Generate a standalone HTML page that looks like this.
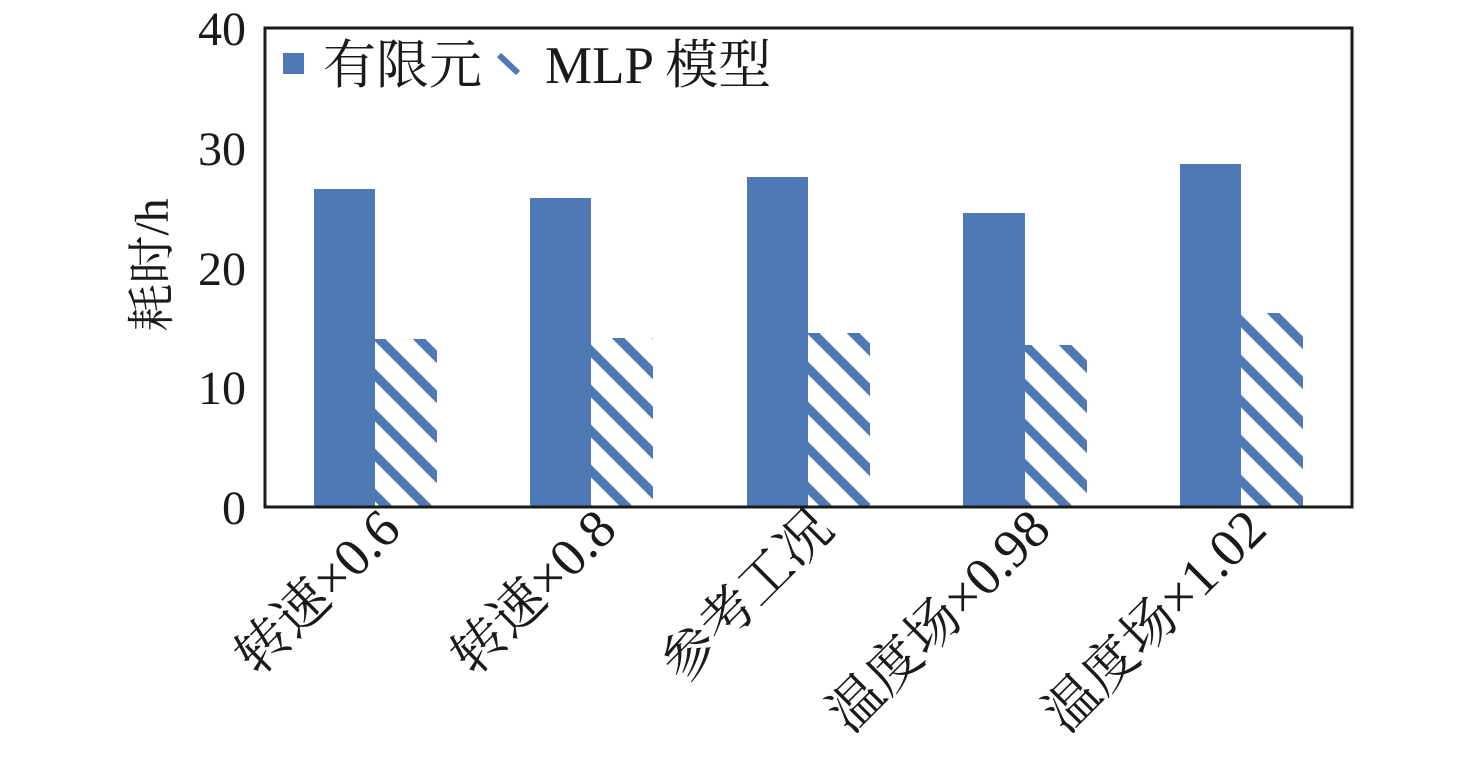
<!DOCTYPE html>
<html><head><meta charset="utf-8"><style>body{margin:0;background:#fff}</style></head>
<body>
<svg width="1476" height="757" xmlns="http://www.w3.org/2000/svg" font-family="'Liberation Serif','Noto Serif CJK SC',serif">
<defs>
<pattern id="h" patternUnits="userSpaceOnUse" width="40" height="40" x="0" y="0">
<path d="M-10,-10 L50,50 M-10,30 L10,50 M30,-10 L50,10" stroke="#4f79b5" stroke-width="9"/>
</pattern>
</defs>
<rect width="1476" height="757" fill="#fff"/>
<g fill="#4f79b5">
<rect x="314" y="189" width="61" height="318"/>
<rect x="530" y="198" width="61" height="309"/>
<rect x="747" y="177" width="61" height="330"/>
<rect x="963" y="213" width="62" height="294"/>
<rect x="1180" y="164" width="61" height="343"/>
</g>
<g fill="url(#h)">
<rect x="375" y="339" width="62" height="168"/>
<rect x="591" y="338" width="62" height="169"/>
<rect x="808" y="333" width="62" height="174"/>
<rect x="1025" y="345" width="62" height="162"/>
<rect x="1241" y="313" width="62" height="194"/>
</g>
<rect x="265" y="28" width="1087" height="479" fill="none" stroke="#1a1a1a" stroke-width="3"/>
<g font-size="48" fill="#1a1a1a" text-anchor="end">
<text x="246" y="524">0</text>
<text x="246" y="404">10</text>
<text x="246" y="285">20</text>
<text x="246" y="165">30</text>
<text x="246" y="45">40</text>
</g>
<text transform="translate(168,265) rotate(-90)" font-size="48" text-anchor="middle" fill="#1a1a1a">耗时/h</text>
<rect x="283" y="53" width="21" height="21" fill="#4f79b5"/>
<path d="M499,55 L518,73" stroke="#4f79b5" stroke-width="6"/>
<g font-size="53" fill="#1a1a1a">
<text x="323" y="83">有限元</text>
<text x="545" y="83">MLP 模型</text>
</g>
<g font-size="54" fill="#1a1a1a" text-anchor="end">
<text transform="translate(403,532) rotate(-45)">转速×0.6</text>
<text transform="translate(619,532) rotate(-45)">转速×0.8</text>
<text transform="translate(836,532) rotate(-45)">参考工况</text>
<text transform="translate(1053,532) rotate(-45)">温度场×0.98</text>
<text transform="translate(1269,532) rotate(-45)">温度场×1.02</text>
</g>
</svg>
</body></html>
